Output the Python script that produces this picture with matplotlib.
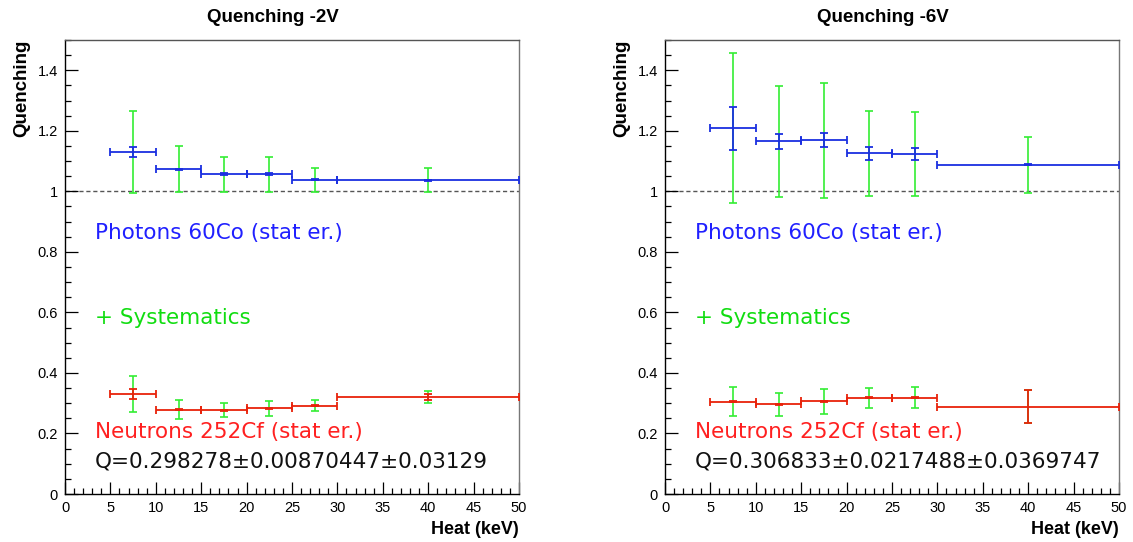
import numpy as np
import matplotlib
matplotlib.use("Agg")
import matplotlib.pyplot as plt
from matplotlib.ticker import MultipleLocator, FuncFormatter

# bins in heat (keV)
bin_lo = [5, 10, 15, 20, 25, 30]
bin_hi = [10, 15, 20, 25, 30, 50]

# -2V
pho_2v = [1.130, 1.073, 1.057, 1.057, 1.038, 1.037]
pho_2v_stat = [0.016, 0.002, 0.002, 0.002, 0.002, 0.002]
pho_2v_syst = [0.137, 0.076, 0.058, 0.058, 0.039, 0.039]
neu_2v = [0.331, 0.278, 0.277, 0.283, 0.292, 0.321]
neu_2v_stat = [0.016, 0.002, 0.002, 0.002, 0.002, 0.010]
neu_2v_syst = [0.059, 0.031, 0.023, 0.024, 0.017, 0.020]

# -6V
pho_6v = [1.208, 1.165, 1.169, 1.126, 1.124, 1.088]
pho_6v_stat = [0.072, 0.024, 0.023, 0.022, 0.020, 0.002]
pho_6v_syst = [0.248, 0.184, 0.190, 0.140, 0.138, 0.093]
neu_6v = [0.305, 0.296, 0.306, 0.318, 0.318, 0.289]
neu_6v_stat = [0.002, 0.002, 0.002, 0.002, 0.002, 0.053]
neu_6v_syst = [0.048, 0.037, 0.041, 0.033, 0.034, 0.054]

titles = ["Quenching -2V", "Quenching -6V"]
q_texts = ["Q=0.298278\u00b10.00870447\u00b10.03129",
           "Q=0.306833\u00b10.0217488\u00b10.0369747"]

BLUE = "#1a2fe0"
GREEN = "#33ee33"
RED = "#e8220a"

plt.rcParams['font.family'] = ['Liberation Sans', 'DejaVu Sans']

fig = plt.figure(figsize=(11.33, 5.42), dpi=100)
W, H = 1133, 542


def panel(x0, pho, pho_st, pho_sy, neu, neu_st, neu_sy, title, qtxt, tx):
    ax = fig.add_axes([x0 / W, 48 / H, 454 / W, 454 / H])
    lo = np.array(bin_lo)
    hi = np.array(bin_hi)
    xc = (lo + hi) / 2
    xe = (hi - lo) / 2

    # stat errors with bin widths
    ax.errorbar(xc, pho, xerr=xe, yerr=pho_st, fmt='none', ecolor=BLUE,
                elinewidth=1.3, capsize=2.6, capthick=1.3, zorder=3)
    ax.errorbar(xc, neu, xerr=xe, yerr=neu_st, fmt='none', ecolor=RED,
                elinewidth=1.3, capsize=2.6, capthick=1.3, zorder=3)
    # systematics
    ax.errorbar(xc, pho, yerr=pho_sy, fmt='none', ecolor=GREEN,
                elinewidth=1.2, capsize=3.2, capthick=1.2, zorder=2)
    ax.errorbar(xc, neu, yerr=neu_sy, fmt='none', ecolor=GREEN,
                elinewidth=1.2, capsize=3.2, capthick=1.2, zorder=2)

    ax.axhline(1.0, color='#555555', ls=(0, (3, 2)), lw=1.0, zorder=1)

    ax.set_xlim(0, 50)
    ax.set_ylim(0, 1.5)
    ax.xaxis.set_major_locator(MultipleLocator(5))
    ax.xaxis.set_minor_locator(MultipleLocator(1))
    ax.yaxis.set_major_locator(MultipleLocator(0.2))
    ax.yaxis.set_minor_locator(MultipleLocator(0.05))
    ax.yaxis.set_major_formatter(FuncFormatter(lambda v, p: "%g" % round(v, 2)))
    ax.tick_params(which='both', direction='in', top=False, right=False,
                   labelsize=10.5, colors='black', width=0.9)
    ax.tick_params(which='major', length=9, pad=5)
    ax.tick_params(which='minor', length=4.5)
    for s in ax.spines.values():
        s.set_linewidth(1.0)
        s.set_color('black')
    ax.spines['right'].set_color('#777777')
    ax.spines['top'].set_color('#555555')

    ax.set_xlabel("Heat (keV)", fontsize=13, fontweight='bold', loc='right',
                  labelpad=4)
    ax.set_ylabel("Quenching", fontsize=13.5, fontweight='bold', loc='top',
                  labelpad=5)
    fig.text(tx / W, 1 - 18 / H, title, fontsize=13.5, fontweight='bold',
             ha='center', va='center')

    fs = 15.5
    fam = ['DejaVu Sans']
    ax.text(3.3, 0.863, "Photons 60Co (stat er.)", color='#2020ff',
            fontsize=fs, family=fam, va='center')
    ax.text(3.3, 0.582, "+ Systematics", color='#11dd11',
            fontsize=fs, family=fam, va='center')
    ax.text(3.3, 0.205, "Neutrons 252Cf (stat er.)", color='#ff2020',
            fontsize=fs, family=fam, va='center')
    ax.text(3.3, 0.109, qtxt, color='#111111',
            fontsize=fs, family=fam, va='center')
    return ax


panel(65, pho_2v, pho_2v_stat, pho_2v_syst, neu_2v, neu_2v_stat, neu_2v_syst,
      titles[0], q_texts[0], 273)
panel(665, pho_6v, pho_6v_stat, pho_6v_syst, neu_6v, neu_6v_stat, neu_6v_syst,
      titles[1], q_texts[1], 883)

fig.savefig("out.png", dpi=100)
